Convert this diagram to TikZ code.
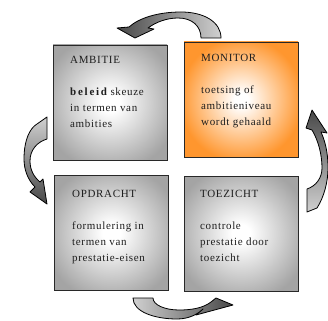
\documentclass[tikz,border=0pt]{standalone}
\usepackage{fontspec}
\setmainfont{Liberation Serif}[LetterSpace=6]

\definecolor{boxgray}{RGB}{164,164,164}
\definecolor{boxorange}{RGB}{255,150,46}
\definecolor{arrowdark}{RGB}{72,72,72}
\definecolor{arrowlight}{RGB}{208,208,208}
\definecolor{rim}{RGB}{40,40,40}
\definecolor{ink}{RGB}{30,30,30}

% panels glow white in the middle and fade to their colour at the rim
\pgfdeclareradialshading{panelgray}{\pgfpointorigin}{%
  color(0bp)=(white); color(4bp)=(white); color(30bp)=(boxgray); color(50bp)=(boxgray)}
\pgfdeclareradialshading{panelorange}{\pgfpointorigin}{%
  color(0bp)=(white); color(3bp)=(white); color(27bp)=(boxorange); color(50bp)=(boxorange)}

\tikzset{
  gradbox/.style={
    draw=rim, line width=0.9pt, inner sep=0pt,
    minimum width=114pt, minimum height=115pt, shade, shading=#1},
  boxtext/.style={anchor=base west, inner sep=0pt, text=ink,
    font=\fontsize{11}{16}\selectfont},
  bentarrow/.style={draw=black, line width=0.8pt, line join=round},
}

\newcommand{\panel}[2]{\parbox[t]{100pt}{\raggedright #1\\[16pt]#2}}

\begin{document}
\begin{tikzpicture}[x=1pt,y=-1pt]
  \useasboundingbox (0,0) rectangle (328,320);

  % the four panels
  \node[gradbox=panelgray]   (ambitie)  at (110,102.5) {};
  \node[gradbox=panelorange] (monitor)  at (241,99.5)  {};
  \node[gradbox=panelgray]   (opdracht) at (111.5,233) {};
  \node[gradbox=panelgray]   (toezicht) at (241,233.5) {};

  \node[boxtext] (ambitie-t) at (70,64)
    {\panel{AMBITIE}{{\bfseries\addfontfeature{LetterSpace=16}beleid} skeuze\\in termen van\\ambities}};
  \node[boxtext] (monitor-t) at (201,62)
    {\panel{MONITOR}{toetsing of\\ambitieniveau\\wordt gehaald}};
  \node[boxtext] (opdracht-t) at (72,197)
    {\panel{OPDRACHT}{formulering in\\termen van\\prestatie-eisen}};
  \node[boxtext] (toezicht-t) at (200,197)
    {\panel{TOEZICHT}{controle\\prestatie door\\toezicht}};

  % curved block arrows running round the cycle
  % top: from MONITOR over to AMBITIE
  \draw[bentarrow, left color=arrowdark, right color=arrowlight]
    (221,38) .. controls (221,22) and (204,12) .. (181,12)
    .. controls (158,12) and (139,18) .. (129,27)
    -- (117,28) -- (135,38) -- (154,29) -- (148,28)
    .. controls (156,22) and (167,18) .. (178,18)
    .. controls (192,18) and (201,26) .. (201,38) -- cycle;

  % left: from AMBITIE down to OPDRACHT
  \draw[bentarrow, top color=arrowlight, bottom color=arrowdark]
    (47,117) -- (47,139)
    .. controls (37,142) and (30,150) .. (30,161)
    .. controls (30,170) and (34,177) .. (40,182)
    -- (43,179) -- (47,204) -- (30,192) -- (35,187)
    .. controls (28,180) and (24,170) .. (24,159)
    .. controls (24,140) and (30,128) .. (37,124) -- cycle;

  % bottom: from OPDRACHT under to TOEZICHT
  \draw[bentarrow, left color=arrowlight, right color=arrowdark]
    (133,298) .. controls (133,312) and (155,319) .. (177,319)
    .. controls (189,319) and (198,314) .. (203,309)
    -- (196,315) -- (233,305) -- (216,298) -- (211,302)
    .. controls (203,308) and (192,310) .. (179,310)
    .. controls (165,310) and (153,305) .. (153,298) -- cycle;

  % right: from TOEZICHT up to MONITOR
  \draw[bentarrow, top color=arrowdark, bottom color=arrowlight]
    (307,189) -- (307,212) -- (317,208)
    .. controls (324,197) and (328,182) .. (328,168)
    .. controls (328,152) and (325,141) .. (321,132)
    -- (327,133) -- (312,110) -- (306,128) -- (312,130)
    .. controls (318,140) and (322,154) .. (322,168)
    .. controls (322,178) and (316,186) .. (307,189) -- cycle;
\end{tikzpicture}
\end{document}
